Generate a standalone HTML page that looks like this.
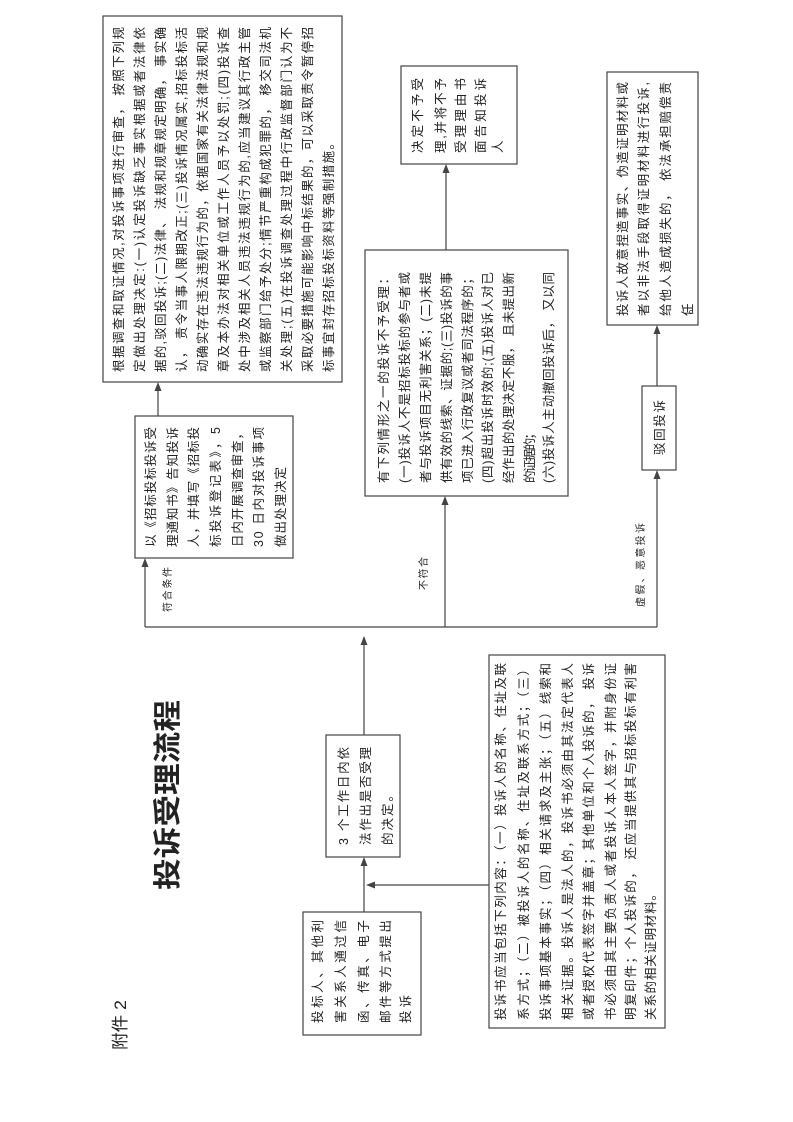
<!DOCTYPE html>
<html><head><meta charset="utf-8"><style>
html,body{margin:0;padding:0;background:#fff;}
svg{display:block;}
text{font-family:"Liberation Sans","Noto Sans CJK SC",sans-serif;fill:#222;}
</style></head><body>
<svg width="793" height="1122" viewBox="0 0 793 1122" xmlns="http://www.w3.org/2000/svg">
<g fill="none" stroke="#444" stroke-width="1.2">
<rect x="103" y="16" width="239" height="366"/>
<rect x="135" y="416" width="158" height="142"/>
<rect x="365" y="250" width="203" height="246"/>
<rect x="401" y="66" width="116" height="98"/>
<rect x="642" y="386" width="34" height="84"/>
<rect x="607" y="72" width="91" height="253"/>
<rect x="326" y="735" width="74" height="122"/>
<rect x="303" y="912" width="118" height="123"/>
<rect x="489" y="655" width="176" height="373"/>
<path d="M158 416V390M145 627V566M145 627H657M445 627V504M446 250V172M657 627V478M657 386V333M364 735V644M364 912V865M374 885H489"/>
</g>
<g fill="#444">
<polygon points="158,382 154.5,391 161.5,391"/>
<polygon points="145,558 141.5,567 148.5,567"/>
<polygon points="445,496 441.5,505 448.5,505"/>
<polygon points="446,164 442.5,173 449.5,173"/>
<polygon points="657,470 653.5,479 660.5,479"/>
<polygon points="657,325 653.5,334 660.5,334"/>
<polygon points="364,636 360.5,645 367.5,645"/>
<polygon points="364,857 360.5,866 367.5,866"/>
<polygon points="366,885 375,881.5 375,888.5"/>
</g>
<g font-size="12.5" lengthAdjust="spacingAndGlyphs">
<!-- big box -->
<text transform="translate(123,372) rotate(-90)" textLength="345">根据调查和取证情况,对投诉事项进行审查， 按照下列规</text>
<text transform="translate(144,372) rotate(-90)" textLength="345">定做出处理决定:(一)认定投诉缺乏事实根据或者法律依</text>
<text transform="translate(165,372) rotate(-90)" textLength="345">据的,驳回投诉;(二)法律、 法规和规章规定明确， 事实确</text>
<text transform="translate(186,372) rotate(-90)" textLength="345">认， 责令当事人限期改正;(三)投诉情况属实,招标投标活</text>
<text transform="translate(207,372) rotate(-90)" textLength="345">动确实存在违法违规行为的，依据国家有关法律法规和规</text>
<text transform="translate(228,372) rotate(-90)" textLength="345">章及本办法对相关单位或工作人员予以处罚;(四)投诉查</text>
<text transform="translate(249,372) rotate(-90)" textLength="345">处中涉及相关人员违法违规行为的,应当建议其行政主管</text>
<text transform="translate(270,372) rotate(-90)" textLength="345">或监察部门给予处分;情节严重构成犯罪的， 移交司法机</text>
<text transform="translate(291,372) rotate(-90)" textLength="345">关处理;(五)在投诉调查处理过程中行政监督部门认为不</text>
<text transform="translate(312,372) rotate(-90)" textLength="345">采取必要措施可能影响中标结果的，可以采取责令暂停招</text>
<text transform="translate(333,372) rotate(-90)" textLength="235">标事宜封存招标投标资料等强制措施。</text>
<!-- small box -->
<text transform="translate(155,547) rotate(-90)" textLength="120">以《招标投标投诉受</text>
<text transform="translate(177,547) rotate(-90)" textLength="120">理通知书》告知投诉</text>
<text transform="translate(198,547) rotate(-90)" textLength="120">人，并填写《招标投</text>
<text transform="translate(220,547) rotate(-90)" textLength="120">标投诉登记表》，5</text>
<text transform="translate(242,547) rotate(-90)" textLength="120">日内开展调查审查，</text>
<text transform="translate(263,547) rotate(-90)" textLength="120">30 日内对投诉事项</text>
<text transform="translate(285,547) rotate(-90)" textLength="80">做出处理决定</text>
<!-- 不予受理 conditions -->
<text transform="translate(388,483) rotate(-90)" textLength="211">有下列情形之一的投诉不予受理：</text>
<text transform="translate(409,483) rotate(-90)" textLength="211">(一)投诉人不是招标投标的参与者或</text>
<text transform="translate(430,483) rotate(-90)" textLength="211">者与投诉项目无利害关系；(二)未提</text>
<text transform="translate(451,483) rotate(-90)" textLength="211">供有效的线索、证据的;(三)投诉的事</text>
<text transform="translate(472,483) rotate(-90)" textLength="211">项已进入行政复议或者司法程序的；</text>
<text transform="translate(492,483) rotate(-90)" textLength="211">(四)超出投诉时效的;(五)投诉人对已</text>
<text transform="translate(513,483) rotate(-90)" textLength="211">经作出的处理决定不服， 且未提出新</text>
<text transform="translate(534,483) rotate(-90)" textLength="56">的证据的；</text>
<text transform="translate(553,483) rotate(-90)" textLength="211">(六)投诉人主动撤回投诉后， 又以同</text>
<!-- 决定不予受理 -->
<text transform="translate(422,153) rotate(-90)" textLength="75">决定不予受</text>
<text transform="translate(445,153) rotate(-90)" textLength="75">理,并将不予</text>
<text transform="translate(465,153) rotate(-90)" textLength="75">受理理由书</text>
<text transform="translate(485,153) rotate(-90)" textLength="75">面告知投诉</text>
<text transform="translate(502,153) rotate(-90)" textLength="14">人</text>
<!-- 驳回投诉 -->
<text transform="translate(664,455) rotate(-90)" textLength="55">驳回投诉</text>
<!-- 故意 -->
<text transform="translate(627,316) rotate(-90)" textLength="234">投诉人故意捏造事实、伪造证明材料或</text>
<text transform="translate(648,316) rotate(-90)" textLength="234">者以非法手段取得证明材料进行投诉,</text>
<text transform="translate(670,316) rotate(-90)" textLength="234">给他人造成损失的， 依法承担赔偿责</text>
<text transform="translate(692,316) rotate(-90)" textLength="14">任。</text>
<!-- 3个工作日 -->
<text transform="translate(348,845) rotate(-90)" textLength="98">3 个工作日内依</text>
<text transform="translate(370,845) rotate(-90)" textLength="98">法作出是否受理</text>
<text transform="translate(392,845) rotate(-90)" textLength="56">的决定。</text>
<!-- 投标人 -->
<text transform="translate(322,1023) rotate(-90)" textLength="103">投标人、其他利</text>
<text transform="translate(345,1023) rotate(-90)" textLength="103">害关系人通过信</text>
<text transform="translate(368,1023) rotate(-90)" textLength="103">函、传真、电子</text>
<text transform="translate(390,1023) rotate(-90)" textLength="103">邮件等方式提出</text>
<text transform="translate(410,1023) rotate(-90)" textLength="28">投诉</text>
<!-- 投诉书 -->
<text transform="translate(505,1020) rotate(-90)" textLength="357">投诉书应当包括下列内容：（一）投诉人的名称、住址及联</text>
<text transform="translate(528,1020) rotate(-90)" textLength="357">系方式；（二）被投诉人的名称、住址及联系方式；（三）</text>
<text transform="translate(550,1020) rotate(-90)" textLength="357">投诉事项基本事实；（四）相关请求及主张；（五）线索和</text>
<text transform="translate(572,1020) rotate(-90)" textLength="357">相关证据。投诉人是法人的，投诉书必须由其法定代表人</text>
<text transform="translate(593,1020) rotate(-90)" textLength="357">或者授权代表签字并盖章；其他单位和个人投诉的， 投诉</text>
<text transform="translate(615,1020) rotate(-90)" textLength="357">书必须由其主要负责人或者投诉人本人签字，并附身份证</text>
<text transform="translate(635,1020) rotate(-90)" textLength="357">明复印件；个人投诉的， 还应当提供其与招标投标有利害</text>
<text transform="translate(655,1020) rotate(-90)" textLength="132">关系的相关证明材料。</text>
</g>
<g font-size="10" lengthAdjust="spacingAndGlyphs">
<text transform="translate(171,612) rotate(-90)" textLength="45">符合条件</text>
<text transform="translate(427,590) rotate(-90)" textLength="33">不符合</text>
<text transform="translate(644,607) rotate(-90)" textLength="84">虚假、恶意投诉</text>
</g>
<text transform="translate(126,1050) rotate(-90)" font-size="17" textLength="50" lengthAdjust="spacingAndGlyphs">附件 2</text>
<text transform="translate(177,890) rotate(-90)" font-size="28" font-weight="bold" textLength="190" lengthAdjust="spacingAndGlyphs">投诉受理流程</text>
</svg>
</body></html>
